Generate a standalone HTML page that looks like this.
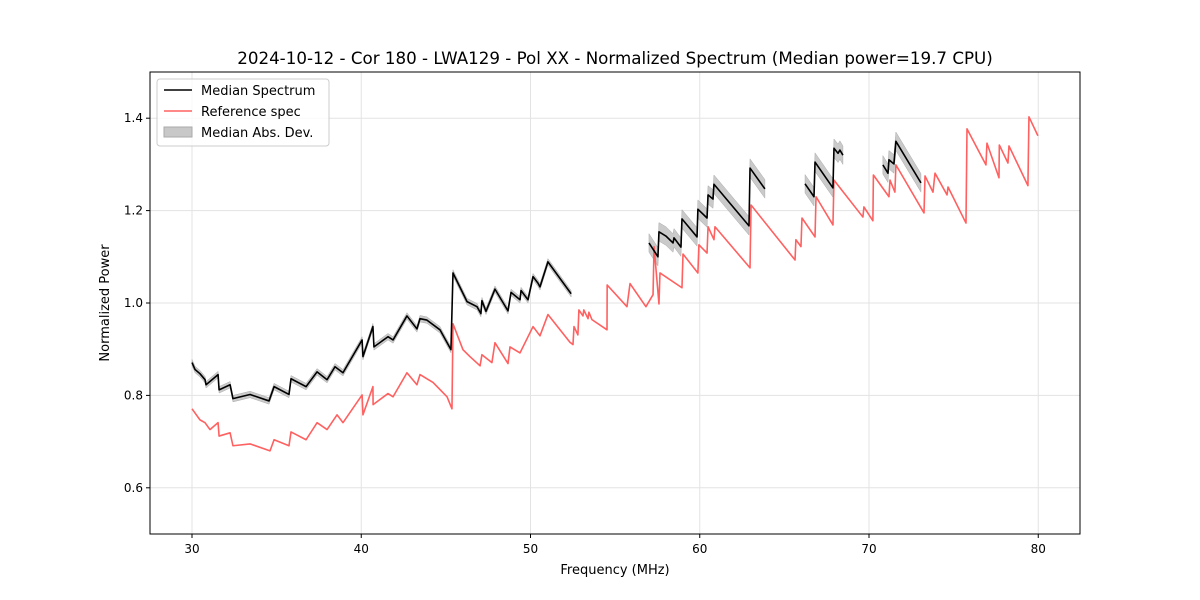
<!DOCTYPE html>
<html><head><meta charset="utf-8">
<style>
html,body{margin:0;padding:0;background:#fff;}
svg{display:block;font-family:"DejaVu Sans","Liberation Sans",sans-serif;}
</style></head>
<body>
<svg id="chart" width="1200" height="600" viewBox="0 0 1200 600" xmlns="http://www.w3.org/2000/svg">
<rect width="1200" height="600" fill="#fff"/>
<text x="615" y="64" font-size="16.7" text-anchor="middle">2024-10-12 - Cor 180 - LWA129 - Pol XX - Normalized Spectrum (Median power=19.7 CPU)</text>
<g id="grid"></g>
<g id="marks"></g>
<rect x="150" y="72" width="930" height="462" fill="none" stroke="#000" stroke-width="1"/>
<g id="axes"></g>
<text x="615" y="574" font-size="13" text-anchor="middle">Frequency (MHz)</text>
<text transform="translate(109,303) rotate(-90)" font-size="13" text-anchor="middle">Normalized Power</text>
<g>
<rect x="157" y="79" width="172" height="67" rx="3" fill="#fff" fill-opacity="0.8" stroke="#ccc"/>
<line x1="164" y1="90" x2="192" y2="90" stroke="#000" stroke-width="1.6"/>
<text x="201" y="95" font-size="13">Median Spectrum</text>
<line x1="164" y1="111" x2="192" y2="111" stroke="#ff6060" stroke-width="1.6"/>
<text x="201" y="116" font-size="13">Reference spec</text>
<rect x="164" y="127" width="28" height="10" fill="#c8c8c8" stroke="#aaa"/>
<text x="201" y="137" font-size="13">Median Abs. Dev.</text>
</g>
</svg>
<script>
const xTicks=[30,40,50,60,70,80];
const yTicks=[0.6,0.8,1.0,1.2,1.4];
const yTickLabels=["0.6","0.8","1.0","1.2","1.4"];
const refFreq=[30.00,30.47,30.77,31.06,31.54,31.60,32.25,32.42,33.43,34.61,34.85,35.73,35.85,36.74,37.39,37.98,38.57,38.92,40.05,40.10,40.69,40.70,41.58,41.88,42.70,43.29,43.47,44.24,45.07,45.36,45.42,46.01,46.42,47.02,47.13,47.72,47.90,48.67,48.79,49.38,50.15,50.56,51.03,52.33,52.51,52.57,52.80,52.86,53.10,53.15,53.40,53.45,53.63,54.52,54.53,55.70,55.88,56.82,57.24,57.30,57.59,57.65,58.95,59.01,59.89,59.95,60.43,60.49,60.84,60.90,62.97,63.03,65.63,65.68,65.98,66.04,66.81,66.87,67.87,67.93,69.64,69.70,70.23,70.26,71.18,71.24,71.53,71.59,73.25,73.31,73.78,73.90,74.61,74.67,75.73,75.79,76.91,76.97,77.68,77.70,78.21,78.27,79.39,79.45,79.98];
const refValue=[0.771,0.747,0.741,0.726,0.741,0.712,0.719,0.691,0.695,0.680,0.704,0.691,0.721,0.704,0.741,0.726,0.758,0.741,0.801,0.758,0.819,0.780,0.804,0.797,0.849,0.823,0.845,0.828,0.797,0.771,0.955,0.899,0.884,0.864,0.888,0.871,0.914,0.869,0.905,0.892,0.949,0.929,0.975,0.915,0.910,0.949,0.931,0.985,0.972,0.985,0.966,0.980,0.964,0.942,1.039,0.992,1.042,0.992,1.018,1.122,0.998,1.065,1.033,1.106,1.065,1.126,1.108,1.165,1.137,1.165,1.076,1.212,1.093,1.137,1.122,1.184,1.143,1.230,1.169,1.266,1.186,1.208,1.178,1.277,1.230,1.266,1.240,1.299,1.195,1.275,1.240,1.281,1.234,1.251,1.173,1.377,1.299,1.346,1.271,1.342,1.303,1.340,1.254,1.403,1.362];
const medFreq=[30.00,30.18,30.47,30.77,30.83,31.54,31.60,32.25,32.42,33.43,34.55,34.85,35.73,35.85,36.74,37.39,37.98,38.45,38.92,40.05,40.10,40.69,40.75,41.58,41.88,42.70,43.29,43.47,43.88,44.65,45.30,45.42,46.25,46.84,47.07,47.13,47.37,47.90,48.67,48.85,49.38,49.44,49.85,50.15,50.44,50.56,51.03,52.40,null,57.00,57.53,57.59,58.00,58.42,58.48,58.89,58.95,59.84,59.89,60.43,60.49,60.78,60.84,62.91,62.97,63.85,null,66.22,66.75,66.81,67.87,67.93,68.17,68.28,68.46,null,70.82,71.12,71.18,71.47,71.59,73.07];
const medValue=[0.871,0.856,0.847,0.834,0.823,0.845,0.812,0.823,0.793,0.802,0.788,0.819,0.802,0.836,0.819,0.851,0.834,0.862,0.849,0.920,0.884,0.949,0.905,0.927,0.920,0.972,0.944,0.966,0.963,0.942,0.899,1.065,1.003,0.992,0.977,1.005,0.982,1.030,0.983,1.023,1.007,1.027,1.007,1.057,1.043,1.035,1.089,1.020,null,1.130,1.100,1.154,1.145,1.130,1.141,1.121,1.182,1.143,1.203,1.184,1.234,1.225,1.257,1.167,1.292,1.247,null,1.258,1.230,1.305,1.249,1.335,1.324,1.331,1.320,null,1.299,1.281,1.310,1.301,1.350,1.260];
const segmentMad=[0.007,0.02,0.02,0.02];

const NS="http://www.w3.org/2000/svg";
const X0=150,X1=1080,Y0=534,Y1=72;
function xs(f){return 192+(f-30)*16.925;}
function ys(v){return Y0-(v-0.5)*(Y0-Y1)/1.0;}
function mk(tag,attrs,parent){const e=document.createElementNS(NS,tag);for(const k in attrs)e.setAttribute(k,attrs[k]);parent.appendChild(e);return e;}
const grid=document.getElementById('grid'),axes=document.getElementById('axes'),marks=document.getElementById('marks');
xTicks.forEach(t=>{
  const gl=mk('line',{x1:xs(t),x2:xs(t),y1:Y1,y2:Y0,stroke:'#e3e3e3','stroke-width':1},grid);
  
  
  const tk=mk('line',{x1:xs(t),x2:xs(t),y1:Y0,y2:Y0+4,stroke:'#000'},axes);
  
  
  const lb=mk('text',{x:xs(t),y:Y0+19,'font-size':12,'text-anchor':'middle'},axes);
  lb.textContent=String(t);
  
  
});
yTicks.forEach((t,i)=>{
  const gl=mk('line',{x1:X0,x2:X1,y1:ys(t),y2:ys(t),stroke:'#e3e3e3','stroke-width':1},grid);
  
  
  const tk=mk('line',{x1:X0-4,x2:X0,y1:ys(t),y2:ys(t),stroke:'#000'},axes);
  
  
  const lb=mk('text',{x:X0-7,y:ys(t)+4,'font-size':12,'text-anchor':'end'},axes);
  lb.textContent=yTickLabels[i];
  
  
});
const segs=[];let cur=[];
medFreq.forEach((f,i)=>{if(f===null){segs.push(cur);cur=[];}else cur.push([f,medValue[i]]);});
segs.push(cur);
segs.forEach((s,si)=>{
  const m=segmentMad[si];
  const up=s.map(p=>xs(p[0])+','+ys(p[1]+m)).join(' ');
  const dn=s.slice().reverse().map(p=>xs(p[0])+','+ys(p[1]-m)).join(' ');
  const b=mk('polygon',{points:up+' '+dn,fill:'#bdbdbd','fill-opacity':0.8,stroke:'#aaa','stroke-width':0.5},marks);
  
  
});
const ref=mk('polyline',{points:refFreq.map((f,i)=>xs(f)+','+ys(refValue[i])).join(' '),fill:'none',stroke:'#ff6060','stroke-width':1.6,'stroke-linejoin':'round'},marks);


segs.forEach(s=>{
  const l=mk('polyline',{points:s.map(p=>xs(p[0])+','+ys(p[1])).join(' '),fill:'none',stroke:'#000','stroke-width':1.6,'stroke-linejoin':'round'},marks);
  
  
});
</script>
</body></html>
